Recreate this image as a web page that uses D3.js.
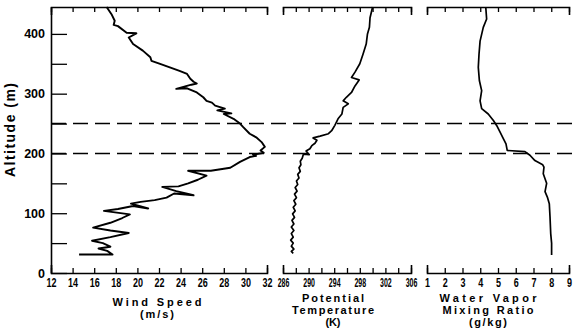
<!DOCTYPE html>
<html>
<head>
<meta charset="utf-8">
<script src="https://cdn.jsdelivr.net/npm/d3@7"></script>
<style>
  body { margin: 0; background: #fff; }
  svg { display: block; font-family: "Liberation Sans", Arial, Helvetica, sans-serif; }
</style>
</head>
<body>
<div id="chart"></div>
<script>
// wind speed profile (m/s) vs altitude (m) from bottom to top
const windSpeed = [14.6, 17.7, 17.2, 16.4, 17.5, 16.8, 15.8, 17.5, 19.2, 17.5, 15.9, 17.5, 18.6, 19.3, 16.9, 18.2, 19.6, 21.0, 19.4, 20.3,
  21.6, 22.7, 23.4, 25.2, 23.6, 22.3, 23.8, 24.7, 25.6, 26.4, 24.7, 26.8, 28.6, 29.5, 30.4, 31.0, 30.7, 31.7, 31.4, 31.8,
  31.5, 31.0, 30.4, 29.8, 29.5, 28.9, 28.0, 28.7, 27.4, 28.1, 27.2, 26.9, 26.4, 26.1, 25.5, 24.6, 23.6, 25.0, 25.5, 25.2,
  24.9, 24.6, 23.9, 23.0, 22.1, 21.3, 21.2, 20.5, 19.6, 19.2, 19.9, 19.0, 18.2, 17.8, 17.9, 17.6, 17.15];
const windAlt = [31, 31, 37, 41, 44, 50, 54, 60, 67, 71, 76, 84, 92, 98, 104, 107, 112, 108, 116, 119,
  122, 126, 133, 130, 137, 144, 145, 150, 156, 163, 171, 171, 176, 186, 194, 196, 198, 201, 205, 211,
  219, 227, 233, 244, 250, 258, 266, 267, 272, 275, 280, 285, 288, 294, 302, 309, 308, 315, 317, 320,
  325, 333, 338, 344, 350, 355, 361, 372, 383, 394, 401, 402, 413, 415, 422, 433, 445];

// potential temperature (K)
const theta = [287.6, 287.3, 287.7, 287.3, 287.6, 287.2, 287.6, 287.3, 287.7, 287.3, 287.7, 287.4, 287.8, 287.5, 287.9, 287.6,
  288.0, 287.7, 288.1, 287.8, 288.2, 287.9, 288.3, 288.1, 288.5, 288.3, 288.7, 288.5, 288.8, 288.7, 289.0, 289.2,
  290.1, 289.6, 290.2, 290.5, 291.0, 291.3, 290.7, 291.8, 293.1, 293.6, 294.1, 294.6, 295.2, 295.4, 296.2, 295.4,
  295.9, 296.7, 297.25, 297.9, 296.7, 297.25, 298.0, 298.5, 299.0, 299.2, 299.5, 299.6, 300.0];
const thetaAlt = [33, 36, 40, 45, 50, 55, 60, 66, 71, 77, 82, 88, 93, 99, 104, 110,
  115, 121, 126, 132, 137, 143, 148, 154, 159, 165, 170, 176, 181, 187, 192, 199,
  198, 204, 208, 213, 217, 222, 226, 229, 233, 238, 247, 258, 266, 277, 283, 288,
  294, 302, 313, 323, 327, 336, 350, 366, 383, 400, 411, 427, 445];

// water vapor mixing ratio (g/kg)
const mixRatio = [8.02, 8.02, 7.97, 7.93, 7.89, 7.78, 7.65, 7.74, 7.55, 7.59, 7.52, 7.08, 6.80, 6.52, 5.52, 5.45,
  5.30, 5.11, 4.96, 4.74, 4.45, 4.08, 3.99, 4.08, 3.95, 3.89, 3.93, 3.99, 4.17, 4.36, 4.31];
const mixAlt = [30, 50, 66, 94, 116, 127, 136, 150, 166, 177, 181, 188, 197, 203, 205, 216,
  225, 236, 245, 255, 266, 275, 288, 305, 322, 344, 366, 388, 411, 425, 445];

const altTicks = [0, 50, 100, 150, 200, 250, 300, 350, 400];
const altLabels = [0, 100, 200, 300, 400];
const windTicks = [12, 14, 16, 18, 20, 22, 24, 26, 28, 30, 32];
const thetaTicks = [286, 288, 290, 292, 294, 296, 298, 300, 302, 304, 306];
const thetaLabels = [286, 290, 294, 298, 302, 306];
const mixTicks = [1, 2, 3, 4, 5, 6, 7, 8, 9];
const layerBounds = [200, 250];

const width = 575;
const height = 330;
const plotTop = 7;
const plotBottom = 273;

const y = d3.scaleLinear().domain([0, 445]).range([plotBottom, plotTop]);
const xWind = d3.scaleLinear().domain([12, 32]).range([51, 267]);
const xTheta = d3.scaleLinear().domain([286, 306]).range([283, 411]);
const xMix = d3.scaleLinear().domain([1, 9]).range([427, 569]);

const svg = d3.select("#chart").append("svg")
    .attr("width", width)
    .attr("height", height)
    .attr("viewBox", [0, 0, width, height]);

function styleAxis(g, sx) {
  g.attr("font-size", null).attr("font-family", null);
  g.select(".domain").attr("stroke-width", 1.6);
  g.selectAll(".tick line").attr("stroke-width", 1.3);
  g.selectAll(".tick text")
      .attr("font-size", 12.5)
      .attr("font-weight", "bold")
      .attr("transform", sx ? `scale(${sx},1)` : null);
}

// top and bottom axes for each panel (ticks point inward)
function panelAxes(x, ticks, labels, sx) {
  svg.append("g")
      .attr("transform", `translate(0,${plotBottom})`)
      .call(d3.axisBottom(x).tickValues(ticks).tickSizeInner(-5).tickSizeOuter(-8).tickPadding(5)
        .tickFormat(d => labels.includes(d) ? d : ""))
      .call(g => styleAxis(g, sx));
  svg.append("g")
      .attr("transform", `translate(0,${plotTop})`)
      .call(d3.axisTop(x).tickValues(ticks).tickSizeInner(-5).tickSizeOuter(-8).tickFormat(""))
      .call(g => styleAxis(g));
}

panelAxes(xWind, windTicks, windTicks, 0.72);
panelAxes(xTheta, thetaTicks, thetaLabels, 0.56);
panelAxes(xMix, mixTicks, mixTicks, 0.72);

svg.append("g")
    .attr("transform", `translate(${xWind.range()[0]},0)`)
    .call(d3.axisLeft(y).tickValues(altTicks).tickSizeInner(-16).tickSizeOuter(0).tickPadding(6)
      .tickFormat(d => altLabels.includes(d) ? d : ""))
    .call(g => styleAxis(g));

// boundary layer dashed lines
svg.append("g")
  .selectAll("line")
  .data(layerBounds)
  .join("line")
    .attr("x1", xWind.range()[0])
    .attr("x2", width)
    .attr("y1", d => y(d))
    .attr("y2", d => y(d))
    .attr("stroke", "#000")
    .attr("stroke-width", 1.5)
    .attr("stroke-dasharray", "15,7");

// profiles
function profile(vals, alts, x, sw) {
  const pts = vals.map((v, i) => [v, alts[i]]);
  svg.append("path")
      .datum(pts)
      .attr("fill", "none")
      .attr("stroke", "#000")
      .attr("stroke-width", sw)
      .attr("stroke-linejoin", "round")
      .attr("d", d3.line().x(d => x(d[0])).y(d => y(d[1])));
}

profile(windSpeed, windAlt, xWind, 1.9);
profile(theta, thetaAlt, xTheta, 1.7);
profile(mixRatio, mixAlt, xMix, 1.7);

// titles
const titles = [
  {lines: ["Wind Speed", "(m/s)"], cx: 157, base: [306, 318], len: [89, 34]},
  {lines: ["Potential", "Temperature", "(K)"], cx: 333, base: [302, 314, 326], len: [62, 82, 15]},
  {lines: ["Water Vapor", "Mixing Ratio", "(g/kg)"], cx: 488, base: [302, 314, 326], len: [97, 91, 38]}
];

titles.forEach(t => {
  t.lines.forEach((s, i) => {
    svg.append("text")
        .attr("x", t.cx)
        .attr("y", t.base[i])
        .attr("text-anchor", "middle")
        .attr("font-size", 11)
        .attr("font-weight", "bold")
        .attr("textLength", t.len[i])
        .attr("lengthAdjust", "spacing")
        .text(s);
  });
});

svg.append("text")
    .attr("transform", "translate(15,130) rotate(-90)")
    .attr("text-anchor", "middle")
    .attr("font-size", 14)
    .attr("font-weight", "bold")
    .attr("textLength", 94)
    .attr("lengthAdjust", "spacing")
    .text("Altitude (m)");
</script>
</body>
</html>
